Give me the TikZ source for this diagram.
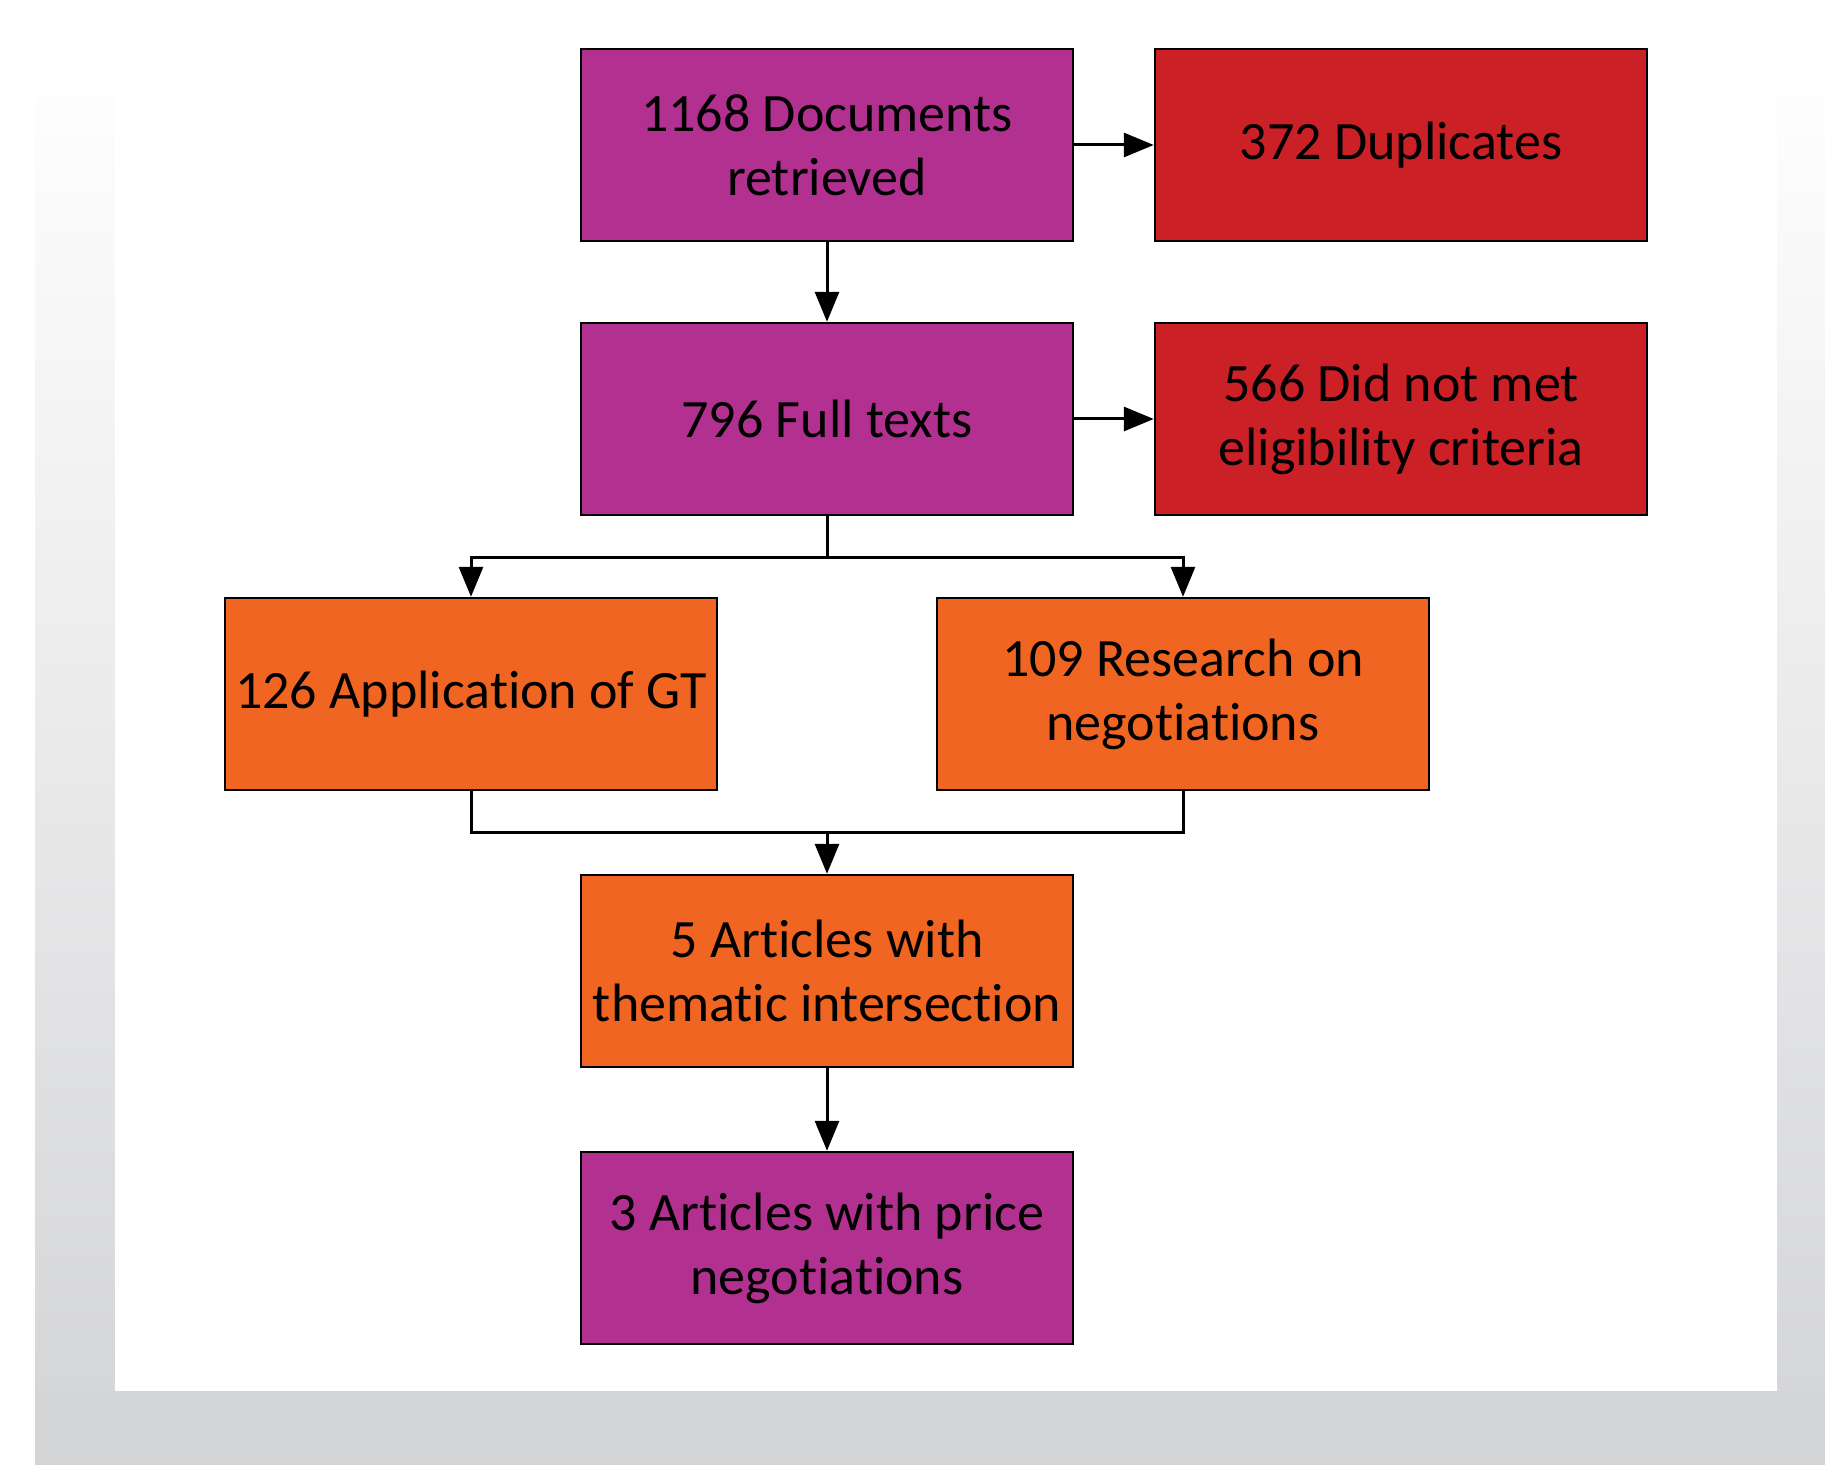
\documentclass[tikz,border=0pt]{standalone}
\usepackage{fontspec}
\setmainfont{Carlito}[RawFeature={-liga;-clig;-dlig;-rlig;-calt}]
\usetikzlibrary{arrows.meta}

\definecolor{boxmagenta}{HTML}{B23190}
\definecolor{boxred}{HTML}{CC2027}
\definecolor{boxorange}{HTML}{F06522}
\definecolor{framegray}{HTML}{D3D4D6}

\begin{document}
\begin{tikzpicture}[x=0.5pt, y=-0.5pt,
    box/.style={draw=black, line width=1.2pt, minimum width=246pt, minimum height=96pt,
      inner sep=0pt, align=center, font=\fontsize{27}{32}\selectfont},
    flow/.style={line width=1.5pt, -{Triangle[length=15pt,width=12pt]}},
    link/.style={line width=1.5pt}]
      \useasboundingbox (0,0) rectangle (1825,1476);
      % frame behind the chart
      \shade[top color=white, bottom color=framegray] (35,49) rectangle (1825,1464);
      \fill[framegray] (35,1391) rectangle (1825,1464);
      \fill[white] (115,49) rectangle (1777,1391);

      \node[box, fill=boxmagenta] (docs) at (827, 145) {1168 Documents\\retrieved};
      \node[box, fill=boxred] (dup) at (1401, 145) {372 Duplicates};
      \node[box, fill=boxmagenta] (full) at (827, 419) {796 Full texts};
      \node[box, fill=boxred] (elig) at (1401, 419) {566 Did not met\\eligibility criteria};
      \node[box, fill=boxorange] (gt) at (471, 694) {126 Application of GT};
      \node[box, fill=boxorange] (nego) at (1183, 694) {109 Research on\\negotiations};
      \node[box, fill=boxorange] (inter) at (827, 971) {5 Articles with\\thematic intersection};
      \node[box, fill=boxmagenta] (price) at (827, 1248) {3 Articles with price\\negotiations};

      \coordinate (split) at (827, 557);
      \coordinate (merge) at (827, 832);

      \draw[flow] (docs) -- (dup);
      \draw[flow] (docs) -- (full);
      \draw[flow] (full) -- (elig);
      \draw[link] (full.south) -- (split);
      \draw[flow] (split) -| (gt.north);
      \draw[flow] (split) -| (nego.north);
      \draw[link] (gt.south) |- (merge);
      \draw[link] (nego.south) |- (merge);
      \draw[flow] (merge) -- (inter.north);
      \draw[flow] (inter) -- (price);
    \end{tikzpicture}
\end{document}
